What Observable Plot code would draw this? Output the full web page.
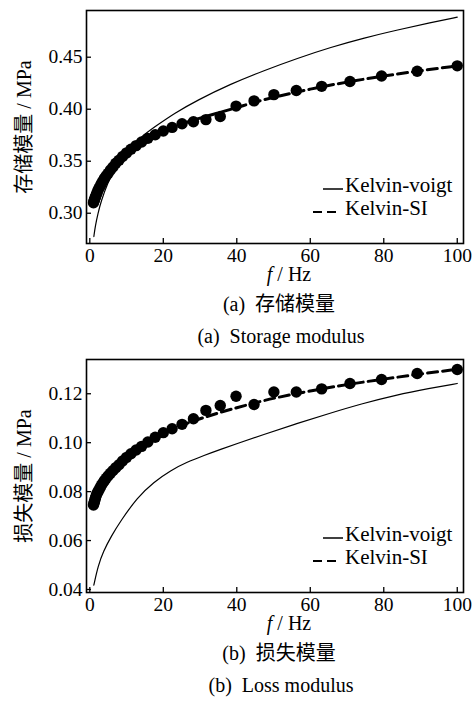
<!DOCTYPE html>
<html>
<head>
<meta charset="utf-8">
<script src="https://cdn.jsdelivr.net/npm/d3@7"></script>
<script src="https://cdn.jsdelivr.net/npm/@observablehq/plot@0.6"></script>
<style>
  html, body { margin: 0; padding: 0; background: #fff; }
  #root { position: relative; width: 474px; height: 702px; overflow: hidden; font-family: "Liberation Serif", "Noto Sans CJK SC", serif; color: #000; }
  .panel { position: absolute; left: 0; width: 474px; height: 352px; }
  .panel svg.plot { position: absolute; left: 0; top: 0; }
  .txt { position: absolute; white-space: nowrap; font-size: 20px; line-height: 1; transform: translate(-50%, -50%); }
  .cjk { font-family: "Liberation Serif", "Noto Sans CJK SC", serif; }
  .lgsample { position: absolute; left: 313px; }
  .lgtext { position: absolute; left: 345px; font-size: 21px; line-height: 1; white-space: nowrap; transform: translateY(-50%); }
</style>
</head>
<body>
<div id="root"></div>
<script>
// ---- data ----
const freq = [1, 1.12, 1.26, 1.41, 1.58, 1.78, 2, 2.24, 2.51, 2.82, 3.16, 3.55, 3.98, 4.47, 5.01, 5.62, 6.31, 7.08, 7.94, 8.91, 10, 11.2, 12.6, 14.1, 15.8, 17.8, 20, 22.4, 25.1, 28.2, 31.6, 35.5, 39.8, 44.7, 50.1, 56.2, 63.1, 70.8, 79.4, 89.1, 100];
const storageMeasured = [0.310, 0.3115, 0.313, 0.3145, 0.316, 0.318, 0.320, 0.322, 0.324, 0.326, 0.3285, 0.331, 0.3335, 0.336, 0.3385, 0.3415, 0.3445, 0.348, 0.351, 0.3545, 0.358, 0.3615, 0.365, 0.3685, 0.372, 0.3755, 0.379, 0.3825, 0.386, 0.388, 0.390, 0.393, 0.403, 0.408, 0.414, 0.418, 0.422, 0.4266, 0.432, 0.4365, 0.4417];
const lossMeasured = [0.0745, 0.0752, 0.0760, 0.0768, 0.0776, 0.0785, 0.0793, 0.0800, 0.0808, 0.0817, 0.0826, 0.0835, 0.0845, 0.0855, 0.0865, 0.0875, 0.0886, 0.0898, 0.0910, 0.0925, 0.0940, 0.0955, 0.0970, 0.0985, 0.1003, 0.1022, 0.1041, 0.1057, 0.1075, 0.1098, 0.1132, 0.1152, 0.1190, 0.1156, 0.1207, 0.1207, 0.1220, 0.1242, 0.1258, 0.1283, 0.1299];

const voigtStorageF = [1.1, 1.5, 2.2, 3, 5, 7, 10, 14, 18.2, 23, 29.1, 38.4, 47.4, 56.5, 65.6, 74.7, 83.8, 92.8, 100];
const voigtStorage = [0.2776, 0.288, 0.2994, 0.3109, 0.3304, 0.3445, 0.3591, 0.3738, 0.3843, 0.396, 0.4084, 0.4244, 0.4372, 0.449, 0.4596, 0.4686, 0.4763, 0.4833, 0.4885];
const voigtLossF = [1.09, 2.29, 3.65, 5.91, 8.4, 12.9, 17.4, 22, 26.5, 31.1, 35.6, 40.2, 47, 56.1, 65.2, 74.2, 83.3, 92.4, 100];
const voigtLoss = [0.0418, 0.0498, 0.0555, 0.0620, 0.0680, 0.0776, 0.0839, 0.0887, 0.0921, 0.0948, 0.0973, 0.0997, 0.1032, 0.1077, 0.1120, 0.1160, 0.1195, 0.1222, 0.1242];

const siF = [1, 1.5, 2, 3, 5, 7, 10, 15, 20, 25, 30, 35, 40, 45, 50, 60, 70, 80, 90, 100];
const siStorage = [0.310, 0.316, 0.320, 0.3275, 0.3385, 0.3475, 0.358, 0.371, 0.379, 0.386, 0.3915, 0.3965, 0.4015, 0.407, 0.4115, 0.4195, 0.4262, 0.432, 0.437, 0.4417];
const siLoss = [0.0745, 0.0773, 0.0793, 0.0825, 0.0868, 0.0902, 0.0940, 0.0992, 0.1038, 0.1072, 0.1098, 0.1122, 0.1143, 0.1163, 0.1182, 0.1212, 0.1238, 0.1260, 0.1281, 0.1300];

const xTicks = [0, 20, 40, 60, 80, 100];
const storageTicks = [0.30, 0.35, 0.40, 0.45];
const lossTicks = [0.04, 0.06, 0.08, 0.10, 0.12];

const legendNames = ["Kelvin-voigt", "Kelvin-SI"];
const xLabelItalic = "f";
const xLabelRest = " / Hz";
const panels = [
  { top: 0, yLabel: "存储模量 / MPa", capCn: "(a)\u2002存储模量", capEn: "(a)\u2002Storage modulus",
    measured: storageMeasured, voigtF: voigtStorageF, voigt: voigtStorage, si: siStorage,
    yDomain: [0.2709, 0.4949], yTicks: storageTicks },
  { top: 349, yLabel: "损失模量 / MPa", capCn: "(b)\u2002损失模量", capEn: "(b)\u2002Loss modulus",
    measured: lossMeasured, voigtF: voigtLossF, voigt: voigtLoss, si: siLoss,
    yDomain: [0.03877, 0.1340], yTicks: lossTicks }
];

const root = document.getElementById("root");
const W = 474, H = 283, ML = 86, MR = 11, MT = 10, MB = 40;
const innerW = W - ML - MR, innerH = H - MT - MB;

for (const p of panels) {
  const pts = freq.map((f, i) => ({f, v: p.measured[i]}));
  const voigt = p.voigtF.map((f, i) => ({f, v: p.voigt[i]}));
  const si = siF.map((f, i) => ({f, v: p.si[i]}));

  const chart = Plot.plot({
    width: W, height: H,
    marginLeft: ML, marginRight: MR, marginTop: MT, marginBottom: MB,
    style: {fontFamily: "'Liberation Serif', serif", fontSize: "19.5px", color: "black", background: "transparent", overflow: "visible"},
    x: {domain: [-0.9, 101.7], ticks: xTicks, tickSize: 0, tickPadding: 5, label: null},
    y: {domain: p.yDomain, ticks: p.yTicks, tickFormat: d3.format(".2f"), tickSize: 0, tickPadding: 4, label: null},
    marks: [
      Plot.tickX(xTicks, {x: d => d, insetTop: innerH - 5, stroke: "black", strokeWidth: 1.3}),
      Plot.tickY(p.yTicks, {y: d => d, insetRight: innerW - 5, stroke: "black", strokeWidth: 1.3}),
      Plot.line(voigt, {x: "f", y: "v", curve: "basis", stroke: "black", strokeWidth: 1.2, clip: true}),
      Plot.line(si, {x: "f", y: "v", curve: "basis", stroke: "black", strokeWidth: 3, strokeDasharray: "10,5", clip: true}),
      Plot.dot(pts, {x: "f", y: "v", r: 5.7, fill: "black", stroke: "none"}),
      Plot.frame({stroke: "black", strokeWidth: 1.6}),
      Plot.text([p.yLabel], {frameAnchor: "left", textAnchor: "middle", dx: -62, rotate: -90, fontSize: 20, fontFamily: "'Liberation Serif', 'Noto Sans CJK SC', serif", fill: "black"})
    ]
  });
  chart.classList.add("plot");

  const panel = document.createElement("div");
  panel.className = "panel";
  panel.style.top = p.top + "px";
  panel.appendChild(chart);

  const xl = document.createElement("div");
  xl.className = "txt";
  xl.style.left = "289px"; xl.style.top = "274px";
  xl.innerHTML = `<i>${xLabelItalic}</i>${xLabelRest}`;
  panel.appendChild(xl);

  const c1 = document.createElement("div");
  c1.className = "txt cjk";
  c1.style.left = "279px"; c1.style.top = "304px";
  c1.textContent = p.capCn;
  panel.appendChild(c1);

  const c2 = document.createElement("div");
  c2.className = "txt";
  c2.style.left = "281px"; c2.style.top = "336px";
  c2.textContent = p.capEn;
  panel.appendChild(c2);

  legendNames.forEach((name, i) => {
    const cy = 185 + i * 23;
    const s = document.createElement("div");
    s.className = "lgsample";
    s.style.top = (cy - 5) + "px";
    s.innerHTML = i === 0
      ? `<svg width="31" height="10"><line x1="10" y1="5" x2="30" y2="5" stroke="black" stroke-width="1.5"/></svg>`
      : `<svg width="31" height="10"><line x1="0" y1="5" x2="23" y2="5" stroke="black" stroke-width="2" stroke-dasharray="9,5"/></svg>`;
    panel.appendChild(s);
    const t = document.createElement("div");
    t.className = "lgtext";
    t.style.top = cy + "px";
    t.textContent = name;
    panel.appendChild(t);
  });

  root.appendChild(panel);
}
</script>
</body>
</html>
